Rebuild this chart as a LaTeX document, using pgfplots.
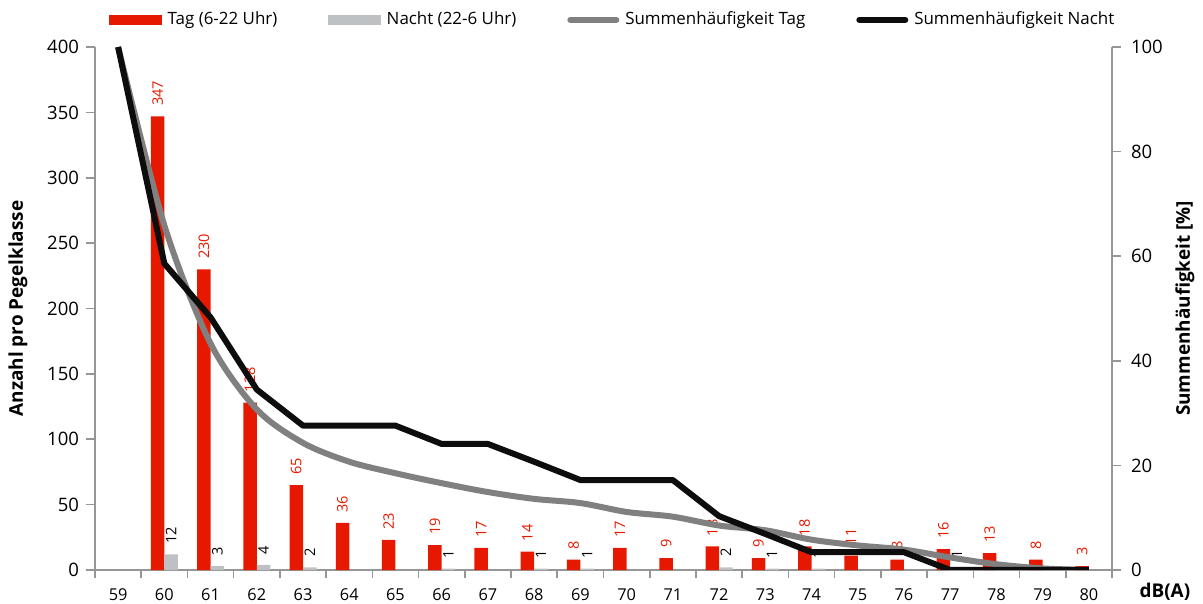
\documentclass[border=0pt]{standalone}
\usepackage{fontspec}
\setmainfont{Open Sans}
\usepackage{pgfplots}
\pgfplotsset{compat=1.18}
\definecolor{tagred}{RGB}{230,25,0}
\definecolor{nachtgray}{RGB}{190,193,196}
\definecolor{sumtag}{RGB}{128,128,128}
\definecolor{sumnacht}{RGB}{13,13,13}
\definecolor{axisgray}{RGB}{150,150,150}
\begin{document}
\begin{tikzpicture}
\pgfplotsset{
  common/.style={
    width=508.5bp, height=261.5bp, scale only axis,
    xmin=-0.5, xmax=21.5,
    /pgf/number format/assume math mode=true,
    yticklabel style={font=\fontsize{9.3}{10}\selectfont},
    xticklabel style={font=\fontsize{8.2}{9}\selectfont},
    axis line style={axisgray, line width=0.8bp},
    tick style={axisgray, line width=0.8bp},
    tick align=outside,
    major tick length=4.5bp,
    minor tick length=4bp,
    label style={font=\bfseries\fontsize{9.5}{11}\selectfont},
  }
}
\begin{axis}[common, name=ax,
  ybar=0pt, bar width=6.75bp,
  ymin=0, ymax=400, ytick={0,50,...,400},
  axis y line*=left, axis x line*=bottom,
  xtick={0,...,21},
  xticklabels={59,60,61,62,63,64,65,66,67,68,69,70,71,72,73,74,75,76,77,78,79,80},
  major x tick style={draw=none},
  minor xtick={-0.5,0.5,...,21.5},
  xticklabel style={yshift=-1.2bp},
  yticklabel style={xshift=0bp},
  ylabel={Anzahl pro Pegelklasse},
  ylabel style={at={(axis description cs:-0.0757,0.5)}, anchor=center},
  xlabel={dB(A)},
  xlabel style={at={(axis description cs:1.052,-0.042)}, anchor=center},
  nodes near coords,
  every node near coord/.append style={rotate=90, anchor=west, font=\fontsize{7.3}{8}\selectfont, inner xsep=5bp, inner ysep=0bp},
]
\addplot[fill=tagred, draw=none, every node near coord/.append style={text=tagred}] coordinates {
(1,347)(2,230)(3,128)(4,65)(5,36)(6,23)(7,19)(8,17)(9,14)(10,8)(11,17)(12,9)(13,18)(14,9)(15,18)(16,11)(17,8)(18,16)(19,13)(20,8)(21,3)};
\addplot[fill=nachtgray, draw=none, every node near coord/.append style={text=black}] coordinates {
(1,12)(2,3)(3,4)(4,2)(7,1)(9,1)(10,1)(13,2)(14,1)(15,1)(18,1)};
\end{axis}
\begin{axis}[common,
  ymin=0, ymax=100, ytick={0,20,...,100},
  axis y line*=right, axis x line=none,
  yticklabel style={xshift=1.5bp},
  ylabel={Summenhäufigkeit [\%]},
  ylabel style={at={(axis description cs:1.0718,0.5)}, anchor=center},
  legend columns=4,
  legend style={draw=none, fill=none, at={(axis description cs:0.0078,1.052)}, anchor=west,
    font=\fontsize{8.5}{10}\selectfont,
    /tikz/every even column/.append style={column sep=23.5bp}},
]
\addlegendimage{legend image code/.code={\fill[tagred] (0bp,-2.25bp) rectangle (26bp,2.25bp); \path[draw=none,fill=none] (0bp,0bp) -- (27bp,0bp);}}
\addlegendentry{Tag (6-22 Uhr)}
\addlegendimage{legend image code/.code={\fill[nachtgray] (0bp,-2.25bp) rectangle (26bp,2.25bp); \path[draw=none,fill=none] (0bp,0bp) -- (27bp,0bp);}}
\addlegendentry{Nacht (22-6 Uhr)}
\addlegendimage{legend image code/.code={\draw[sumtag, line width=3bp, line cap=round] (1.5bp,0bp) -- (24.5bp,0bp); \path[draw=none,fill=none] (0bp,0bp) -- (27bp,0bp);}}
\addlegendentry{Summenhäufigkeit Tag}
\addlegendimage{legend image code/.code={\draw[sumnacht, line width=3bp, line cap=round] (1.5bp,0bp) -- (24.5bp,0bp); \path[draw=none,fill=none] (0bp,0bp) -- (27bp,0bp);}}
\addlegendentry{Summenhäufigkeit Nacht}
\addplot[sumtag, line width=3bp, smooth, line join=round, forget plot] coordinates {
(0,100)(1,65.9)(2,43.3)(3,30.7)(4,24.3)(5,20.7)(6,18.5)(7,16.6)(8,14.9)(9,13.6)(10,12.8)(11,11.1)(12,10.2)(13,8.5)(14,7.6)(15,5.8)(16,4.7)(17,3.9)(18,2.4)(19,1.1)(20,0.3)(21,0)};
\addplot[sumnacht, line width=3bp, line join=round, forget plot] coordinates {
(0,100)(1,58.6)(2,48.3)(3,34.5)(4,27.6)(5,27.6)(6,27.6)(7,24.1)(8,24.1)(9,20.7)(10,17.2)(11,17.2)(12,17.2)(13,10.3)(14,6.9)(15,3.4)(16,3.4)(17,3.4)(18,0)(19,0)(20,0)(21,0)};
\end{axis}
\pgfresetboundingbox
\path[use as bounding box] ([xshift=-47.5bp, yshift=-17bp]ax.south west) rectangle ++(601.5bp,302bp);
\end{tikzpicture}
\end{document}
